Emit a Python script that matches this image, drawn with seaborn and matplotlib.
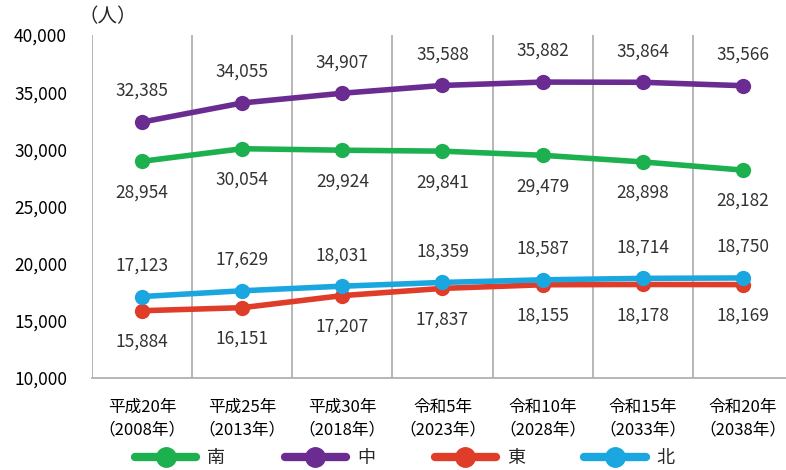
import matplotlib
matplotlib.use("Agg")
import matplotlib.pyplot as plt
import seaborn as sns
import pandas as pd
from matplotlib.lines import Line2D

sns.set_theme(style="white")
plt.rcParams['font.family'] = ['Noto Sans CJK JP', 'DejaVu Sans']

categories = ["平成20年\n（2008年）", "平成25年\n（2013年）", "平成30年\n（2018年）",
              "令和5年\n（2023年）", "令和10年\n（2028年）", "令和15年\n（2033年）",
              "令和20年\n（2038年）"]
south = [28954, 30054, 29924, 29841, 29479, 28898, 28182]
central = [32385, 34055, 34907, 35588, 35882, 35864, 35566]
east = [15884, 16151, 17207, 17837, 18155, 18178, 18169]
north = [17123, 17629, 18031, 18359, 18587, 18714, 18750]
series_names = ["南", "中", "東", "北"]
colors = ["#1DB04E", "#6A2C91", "#E03C2A", "#1AA7E0"]
label_pos = [-1, 1, -1, 1]

df = pd.DataFrame({"x": list(range(len(categories))) * 4,
                   "value": south + central + east + north,
                   "series": sum([[n] * len(categories) for n in series_names], [])})

fig = plt.figure(figsize=(7.86, 4.70), dpi=100)
ax = fig.add_axes([92/786, 1 - 378/470, (793 - 92)/786, (378 - 35)/470])

sns.lineplot(data=df, x="x", y="value", hue="series", palette=colors,
             hue_order=series_names, marker="o", markersize=11, linewidth=4,
             markeredgewidth=0, legend=False, ax=ax)

for vals, pos in zip([south, central, east, north], label_pos):
    for i, v in enumerate(vals):
        ax.annotate(f"{v:,}", (i, v), xytext=(0, 31 * pos), textcoords="offset pixels",
                    ha="center", va="center", fontsize=12.5, color="#333333")

ax.set_xlim(-0.5, len(categories) - 0.5)
ax.set_ylim(10000, 40000)
ax.set_yticks(range(10000, 40001, 5000))
ax.set_yticklabels([f"{t:,}" for t in range(10000, 40001, 5000)], fontsize=12.5)
ax.set_xticks(range(len(categories)))
ax.set_xticklabels(categories, fontsize=12, linespacing=1.45)
ax.tick_params(axis="both", length=0, colors="black")
ax.tick_params(axis="x", pad=15)
ax.tick_params(axis="y", pad=18)
for b in range(len(categories)):
    ax.axvline(b - 0.5, color="#AAAAAA", linewidth=1.2, zorder=0)
for s in ["top", "right", "left"]:
    ax.spines[s].set_visible(False)
ax.spines["bottom"].set_color("#AAAAAA")
ax.spines["bottom"].set_linewidth(1.2)
ax.set_xlabel("")
ax.set_ylabel("")
fig.text(108/786, 1 - 17/470, "（人）", fontsize=14, ha="center", va="center")

handles = [Line2D([0], [0], color=c, linewidth=6, marker="o", markersize=14) for c in colors]
fig.legend(handles, series_names, loc="center", bbox_to_anchor=(0.515, 1 - 458/470), ncol=4,
           frameon=False, handlelength=3.4, columnspacing=3.3, handletextpad=0.6,
           borderpad=0, prop={"size": 13})

fig.savefig("out.png", dpi=100)
